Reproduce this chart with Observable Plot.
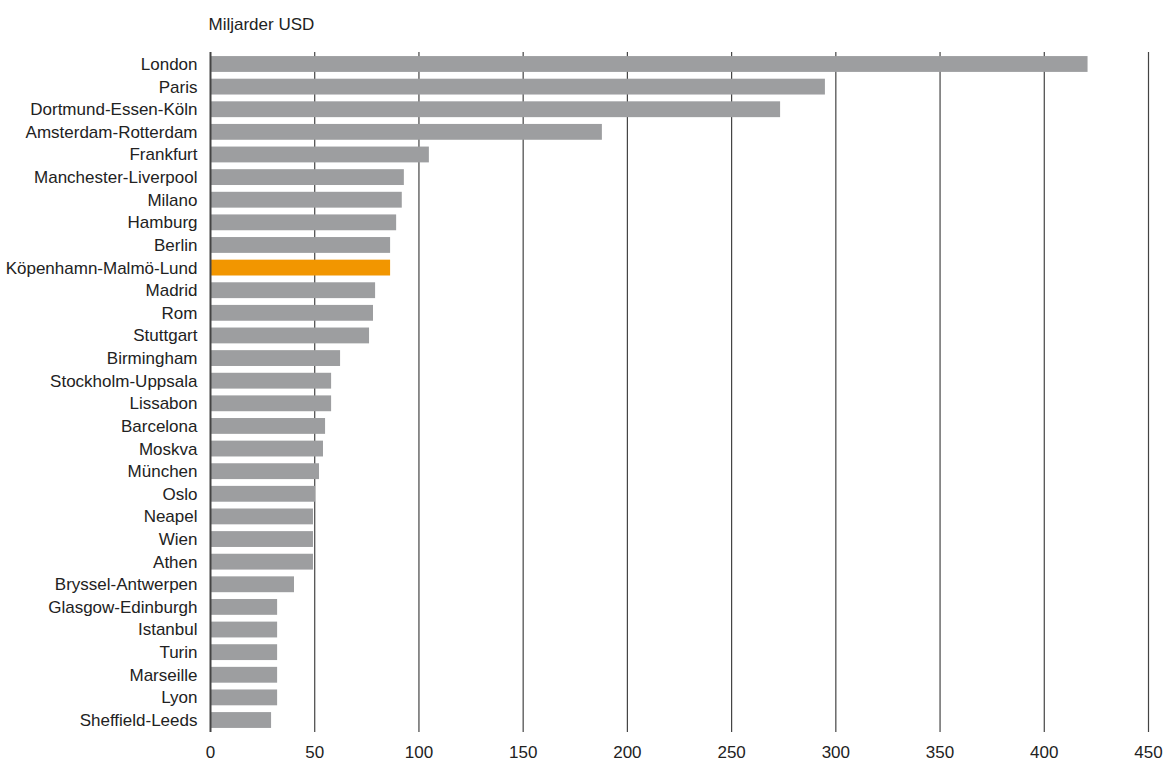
<!DOCTYPE html>
<html>
<head>
<meta charset="utf-8">
<script src="https://cdn.jsdelivr.net/npm/d3@7"></script>
<script src="https://cdn.jsdelivr.net/npm/@observablehq/plot@0.6"></script>
<style>
  html, body { margin: 0; padding: 0; background: #fff; }
  #chart svg { display: block; }
</style>
</head>
<body>
<div id="chart"></div>
<script>
const cities = [
  "London", "Paris", "Dortmund-Essen-Köln", "Amsterdam-Rotterdam", "Frankfurt",
  "Manchester-Liverpool", "Milano", "Hamburg", "Berlin", "Köpenhamn-Malmö-Lund",
  "Madrid", "Rom", "Stuttgart", "Birmingham", "Stockholm-Uppsala",
  "Lissabon", "Barcelona", "Moskva", "München", "Oslo",
  "Neapel", "Wien", "Athen", "Bryssel-Antwerpen", "Glasgow-Edinburgh",
  "Istanbul", "Turin", "Marseille", "Lyon", "Sheffield-Leeds"
];
const values = [
  421, 295, 273.5, 188, 105,
  93, 92, 89.3, 86.4, 86.4,
  79.2, 78.2, 76.3, 62.4, 58.1,
  58.1, 55.2, 54.2, 52.3, 50.4,
  49.4, 49.4, 49.4, 40.3, 32.2,
  32.2, 32.2, 32.2, 32.2, 29.3
];
const highlighted = ["Köpenhamn-Malmö-Lund"];
const xTicks = [0, 50, 100, 150, 200, 250, 300, 350, 400, 450];
const unitLabel = ["Miljarder USD"];

const data = cities.map((c, i) => ({city: c, value: values[i], hi: highlighted.includes(c)}));

const font = "'Liberation Sans', Arial, sans-serif";

const chart = Plot.plot({
  width: 1167,
  height: 763,
  marginLeft: 210,
  marginRight: 19,
  marginTop: 52,
  marginBottom: 31,
  style: {fontFamily: font, fontSize: "17px", color: "#222", background: "#fff"},
  x: {domain: [0, 450], ticks: xTicks, label: null},
  y: {domain: cities, paddingInner: 0.3, paddingOuter: 0.18, round: false, label: null},
  marks: [
    Plot.ruleX(xTicks.filter(t => t > 0), {stroke: "#444", strokeWidth: 1.2}),
    Plot.barX(data.filter(d => !d.hi), {x: "value", y: "city", fill: "#9d9ea0"}),
    Plot.barX(data.filter(d => d.hi), {x: "value", y: "city", fill: "#f29600"}),
    Plot.ruleX([0], {stroke: "#444", strokeWidth: 2}),
    Plot.axisX({ticks: xTicks, tickSize: 0, tickPadding: 13, label: null, fontSize: 17}),
    Plot.axisY({tickSize: 0, tickPadding: 13, label: null, fontSize: 17}),
    Plot.text(unitLabel, {frameAnchor: "top-left", dx: -2, dy: -35, textAnchor: "start", fontSize: 17, fill: "#222"})
  ]
});
document.getElementById("chart").appendChild(chart);
</script>
</body>
</html>
